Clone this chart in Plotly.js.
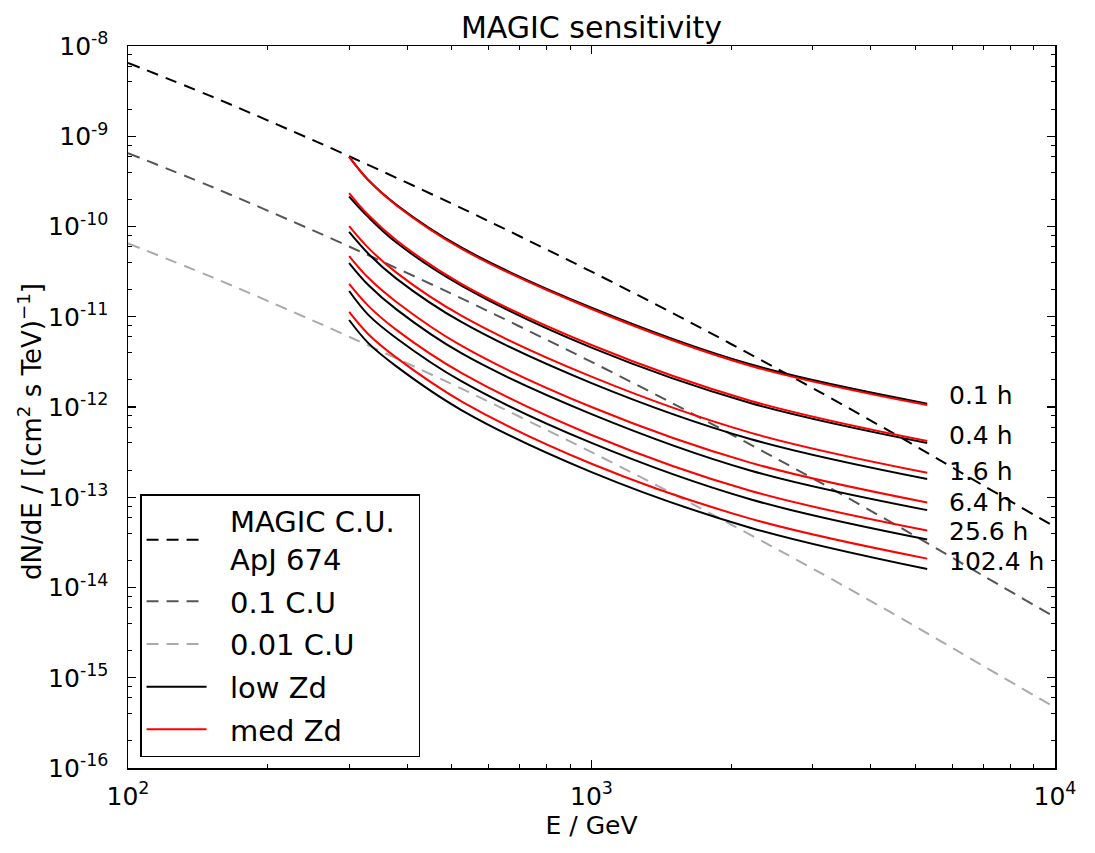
<!DOCTYPE html>
<html>
<head>
<meta charset="utf-8">
<script src="https://cdn.plot.ly/plotly-3.0.1.min.js"></script>
<style>html,body{margin:0;padding:0;background:#fff;}#chart{width:1095px;height:853px;}</style>
</head>
<body>
<div id="chart"></div>
<script>
// ---- data ----
const crabE = [100, 150, 200, 300, 500, 700, 1000, 1500, 2000, 3000, 5000, 7000, 10000];
const crabFlux = [6.5e-9, 2.82e-9, 1.50e-9, 6.0e-10, 1.79e-10, 7.8e-11, 3.16e-11, 1.09e-11, 4.99e-12, 1.62e-12, 3.7e-13, 1.35e-13, 4.7e-14];
const crab01Flux = [6.5e-10, 2.82e-10, 1.50e-10, 6.0e-11, 1.79e-11, 7.8e-12, 3.16e-12, 1.09e-12, 4.99e-13, 1.62e-13, 3.7e-14, 1.35e-14, 4.7e-15];
const crab001Flux = [6.5e-11, 2.82e-11, 1.50e-11, 6.0e-12, 1.79e-12, 7.8e-13, 3.16e-13, 1.09e-13, 4.99e-14, 1.62e-14, 3.7e-15, 1.35e-15, 4.7e-16];

const sensE = [300, 330, 380, 525, 1000, 2200, 5300];
const obsTimes = ['0.1 h', '0.4 h', '1.6 h', '6.4 h', '25.6 h', '102.4 h'];
const lowZd = [
  [5.9e-10, 3.27e-10, 1.73e-10, 5.82e-11, 1.26e-11, 2.97e-12, 1.09e-12],
  [2.15e-10, 1.27e-10, 6.6e-11, 2.2e-11, 4.54e-12, 1.107e-12, 3.99e-13],
  [8.7e-11, 5.0e-11, 2.63e-11, 8.7e-12, 1.84e-12, 4.42e-13, 1.59e-13],
  [3.94e-11, 2.25e-11, 1.2e-11, 3.92e-12, 8.35e-13, 1.98e-13, 7.2e-14],
  [1.93e-11, 1.05e-11, 5.75e-12, 1.92e-12, 4.0e-13, 9.5e-14, 3.4e-14],
  [9.2e-12, 5.1e-12, 2.8e-12, 9.2e-13, 1.9e-13, 4.6e-14, 1.6e-14]
];
const medZd = [
  [5.9e-10, 3.25e-10, 1.70e-10, 5.65e-11, 1.22e-11, 2.87e-12, 1.05e-12],
  [2.35e-10, 1.34e-10, 7.0e-11, 2.3e-11, 4.86e-12, 1.175e-12, 4.2e-13],
  [1.01e-10, 5.8e-11, 3.06e-11, 1.02e-11, 2.17e-12, 5.2e-13, 1.87e-13],
  [4.71e-11, 2.7e-11, 1.45e-11, 4.75e-12, 1.0e-12, 2.42e-13, 8.75e-14],
  [2.31e-11, 1.32e-11, 7.1e-12, 2.37e-12, 4.9e-13, 1.18e-13, 4.28e-14],
  [1.13e-11, 6.4e-12, 3.5e-12, 1.15e-12, 2.35e-13, 5.8e-14, 2.09e-14]
];

const xTickVals = [100, 1000, 10000];
const xTickText = ['10<sup>2</sup>', '10<sup>3</sup>', '10<sup>4</sup>'];
const yTickVals = [1e-16, 1e-15, 1e-14, 1e-13, 1e-12, 1e-11, 1e-10, 1e-9, 1e-8];
const yTickText = ['10<sup>-16</sup>', '10<sup>-15</sup>', '10<sup>-14</sup>', '10<sup>-13</sup>', '10<sup>-12</sup>', '10<sup>-11</sup>', '10<sup>-10</sup>', '10<sup>-9</sup>', '10<sup>-8</sup>'];

// ---- build ----
const FONT = 'DejaVu Sans, Liberation Sans, sans-serif';
const dashPat = '12px,8px';
const PAD = '&nbsp;&nbsp;';
const traces = [];
traces.push({x: crabE, y: crabFlux, mode: 'lines', name: PAD + 'MAGIC C.U.' + PAD + '<br>' + PAD + 'ApJ 674', legendgroup: 'a',
  line: {color: '#000000', width: 2, dash: dashPat, shape: 'spline'}});
traces.push({x: crabE, y: crab01Flux, mode: 'lines', name: PAD + '0.1 C.U', legendgroup: 'b',
  line: {color: '#555555', width: 2, dash: dashPat, shape: 'spline'}});
traces.push({x: crabE, y: crab001Flux, mode: 'lines', name: PAD + '0.01 C.U', legendgroup: 'c',
  line: {color: '#aaaaaa', width: 2, dash: dashPat, shape: 'spline'}});
lowZd.forEach((ys, i) => {
  traces.push({x: sensE, y: ys, mode: 'lines', name: PAD + 'low Zd', legendgroup: 'd', showlegend: i === 0,
    line: {color: '#000000', width: 2, shape: 'spline'}});
});
medZd.forEach((ys, i) => {
  traces.push({x: sensE, y: ys, mode: 'lines', name: PAD + 'med Zd', legendgroup: 'e', showlegend: i === 0,
    line: {color: '#ff0000', width: 2, shape: 'spline'}});
});

const minorX = [];
[100, 1000].forEach(d => { for (let k = 2; k <= 9; k++) minorX.push(k * d); });
const minorY = [];
for (let e = -16; e < -8; e++) { [2, 4, 6, 8].forEach(k => minorY.push(k * Math.pow(10, e))); }

const annotations = obsTimes.map((t, i) => ({
  x: Math.log10(sensE[sensE.length - 1]), y: Math.log10(lowZd[i][lowZd[i].length - 1]),
  xref: 'x', yref: 'y', text: t, showarrow: false, xanchor: 'left', yanchor: 'middle',
  xshift: 20, yshift: 8, font: {family: FONT, size: 25, color: '#000'}
}));
// y-axis title, placed like the reference
annotations.push({
  text: 'dN/dE / [(cm<sup>2</sup> s TeV)<sup>\u22121</sup>]', textangle: -90,
  xref: 'paper', yref: 'paper', x: (30 - 128) / 927, y: (768 - 432) / 722,
  xanchor: 'center', yanchor: 'middle', showarrow: false,
  font: {family: FONT, size: 26, color: '#000'}
});

const axisCommon = {
  type: 'log', showgrid: false, zeroline: false, showline: true, linecolor: '#000', linewidth: 1.5,
  mirror: 'allticks', ticks: 'inside', ticklen: 8, tickwidth: 1.2, tickcolor: '#000',
  tickfont: {family: FONT, size: 25, color: '#000'}
};

const layout = {
  width: 1095, height: 853,
  margin: {l: 128, r: 40, t: 46, b: 85, pad: 0},
  paper_bgcolor: '#fff', plot_bgcolor: '#fff',
  font: {family: FONT, color: '#000'},
  title: {text: 'MAGIC sensitivity', font: {family: FONT, size: 30, color: '#000'},
    x: 0.5, xref: 'paper', xanchor: 'center', y: 1 - 27 / 853, yref: 'container', yanchor: 'middle'},
  xaxis: Object.assign({}, axisCommon, {
    range: [2, 4], tickvals: xTickVals, ticktext: xTickText, ticklabelstandoff: 5,
    minor: {tickvals: minorX, ticks: 'inside', ticklen: 4, tickwidth: 1, tickcolor: '#000'},
    title: {text: 'E / GeV', font: {family: FONT, size: 25, color: '#000'}, standoff: 6}
  }),
  yaxis: Object.assign({}, axisCommon, {
    range: [-16, -8], tickvals: yTickVals, ticktext: yTickText, ticklabelstandoff: 13,
    minor: {tickvals: minorY, ticks: 'inside', ticklen: 4, tickwidth: 1, tickcolor: '#000'}
  }),
  legend: {x: 0.013, y: 0.3795, xref: 'paper', yref: 'paper', xanchor: 'left', yanchor: 'top',
    bgcolor: '#fff', bordercolor: '#000', borderwidth: 1.5, traceorder: 'grouped', tracegroupgap: 2,
    font: {family: FONT, size: 29, color: '#000'}, itemwidth: 60},
  annotations: annotations
};

Plotly.newPlot('chart', traces, layout, {staticPlot: true, displayModeBar: false});
</script>
</body>
</html>
